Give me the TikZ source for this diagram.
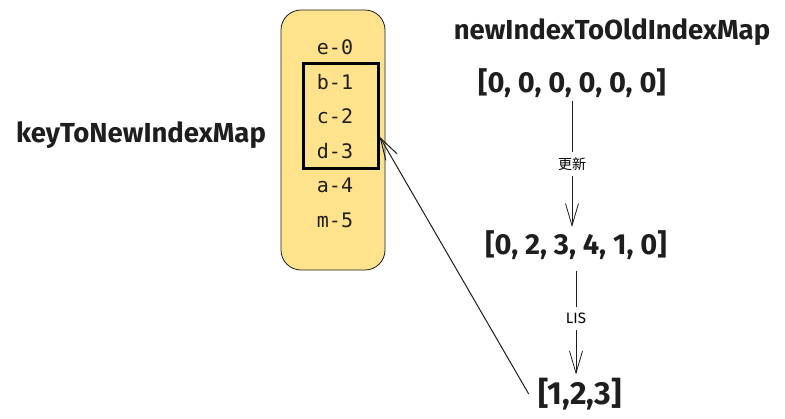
\documentclass[tikz,border=0pt]{standalone}
\usepackage{fontspec}
\setmainfont{Fira Sans}
\setmonofont{DejaVu Sans Mono}
\newfontfamily\cjk{Noto Sans CJK SC}
\usetikzlibrary{arrows.meta,positioning}
\definecolor{keyyellow}{HTML}{FFE38C}
\definecolor{ink}{HTML}{1E1E1E}

\begin{document}
\begin{tikzpicture}[x=1pt,y=-1pt,
  title/.style={font=\bfseries\fontsize{27.5}{32}\selectfont, text=ink},
  arrtext/.style={font=\bfseries\fontsize{29}{33}\selectfont, text=ink},
  keytext/.style={font=\ttfamily\fontsize{20}{24}\selectfont, text=ink},
  note/.style={fill=white, font=\fontsize{15}{17}\selectfont, inner sep=6pt},
  arr/.style={-{Straight Barb[length=22pt,width=13pt]}, draw=ink, line width=0.8pt}]
	\fill[white] (0,0) rectangle (785,418);
	\useasboundingbox (0,0) rectangle (785,418);
	\node[draw=ink, fill=keyyellow, rounded corners=20pt, minimum width=104pt, minimum height=260pt, line width=0.8pt] (box) at (333,140) {};
	\foreach \k [count=\i from 0] in {e-0,b-1,c-2,d-3,a-4,m-5}
	    \node[keytext] (k\i) at (335,47+34.6*\i) {\k};
	\node[draw=black, line width=3pt, minimum width=75pt, minimum height=105pt, inner sep=0] (sel) at (340.5,115.5) {};
	\node[title] (keymap) at (141,135) {keyToNewIndexMap};
	\node[title] (newmap) at (612,32) {newIndexToOldIndexMap};
	\node[arrtext] (z0) at (572,83) {[0, 0, 0, 0, 0, 0]};
	\node[arrtext] (z1) at (576,245) {[0, 2, 3, 4, 1, 0]};
	\node[arrtext, font=\bfseries\fontsize{32}{36}\selectfont] (res) at (580,394) {[1,2,3]};
	\draw[arr] (z0.south) -- node[note, font=\cjk\fontsize{14}{16}\selectfont] {更新} (z0.south |- z1.north);
	\draw[arr, shorten <=8pt] (z1.south) -- node[note] {LIS} (z1.south |- res.north);
	\draw[arr, line width=1pt] ([xshift=-6pt]res.west) -- ([yshift=-21pt]sel.east);
\end{tikzpicture}
\end{document}
